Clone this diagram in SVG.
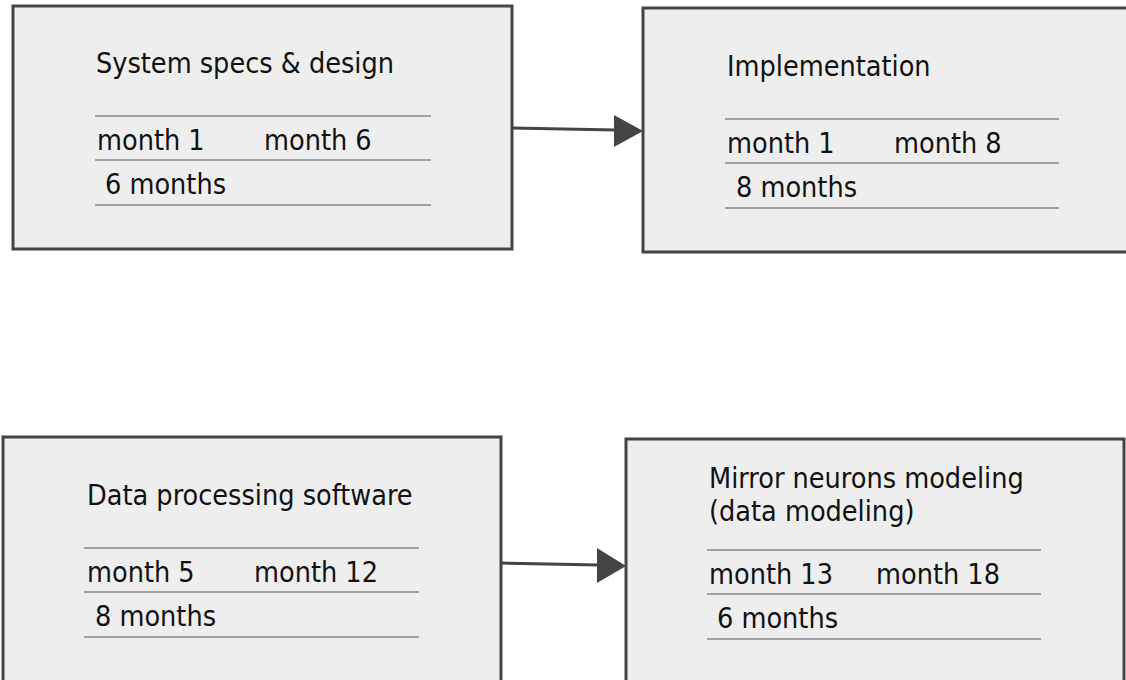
<svg xmlns="http://www.w3.org/2000/svg" width="1126" height="680" viewBox="0 0 1126 680">
<defs>
<style>
.box{fill:#eeeeee;stroke:#444444;stroke-width:3}
.t{font-family:"DejaVu Sans Condensed","DejaVu Sans",sans-serif;font-size:28.5px;fill:#111111}
.ln{stroke:#555555;stroke-width:1}
.ln2{stroke:#888888;stroke-width:1.5}
.conn{stroke:#444444;stroke-width:3;fill:none}
.head{fill:#444444}
</style>
</defs>
<rect x="0" y="0" width="1126" height="680" fill="#ffffff"/>
<g id="node-specs">
<rect class="box" x="13" y="6" width="499" height="243"/>
<text class="t" x="96" y="73">System specs &amp; design</text>
<line class="ln" x1="95" y1="116" x2="431" y2="116"/>
<text class="t" x="97" y="150">month 1</text>
<text class="t" x="264" y="150">month 6</text>
<line class="ln2" x1="95" y1="160" x2="431" y2="160"/>
<text class="t" x="105" y="194">6 months</text>
<line class="ln" x1="95" y1="205" x2="431" y2="205"/>
</g>
<g id="node-impl">
<rect class="box" x="643" y="8" width="490" height="244"/>
<text class="t" x="727" y="76">Implementation</text>
<line class="ln" x1="725" y1="119" x2="1059" y2="119"/>
<text class="t" x="727" y="153">month 1</text>
<text class="t" x="894" y="153">month 8</text>
<line class="ln2" x1="725" y1="163" x2="1059" y2="163"/>
<text class="t" x="736" y="197">8 months</text>
<line class="ln" x1="725" y1="208" x2="1059" y2="208"/>
</g>
<g id="node-data">
<rect class="box" x="3" y="437" width="498" height="260"/>
<text class="t" x="87" y="505">Data processing software</text>
<line class="ln" x1="84" y1="548" x2="419" y2="548"/>
<text class="t" x="87" y="582">month 5</text>
<text class="t" x="254" y="582">month 12</text>
<line class="ln2" x1="84" y1="592" x2="419" y2="592"/>
<text class="t" x="95" y="626">8 months</text>
<line class="ln" x1="84" y1="637" x2="419" y2="637"/>
</g>
<g id="node-mirror">
<rect class="box" x="626" y="439" width="498" height="260"/>
<text class="t" x="709" y="488">Mirror neurons modeling</text>
<text class="t" x="709" y="521">(data modeling)</text>
<line class="ln" x1="707" y1="550" x2="1041" y2="550"/>
<text class="t" x="709" y="584">month 13</text>
<text class="t" x="876" y="584">month 18</text>
<line class="ln2" x1="707" y1="594" x2="1041" y2="594"/>
<text class="t" x="717" y="628">6 months</text>
<line class="ln" x1="707" y1="639" x2="1041" y2="639"/>
</g>
<g id="connectors">
<line class="conn" x1="512" y1="128" x2="616" y2="130"/>
<polygon class="head" points="614,115 643,131 614,147"/>
<line class="conn" x1="501" y1="563" x2="599" y2="565"/>
<polygon class="head" points="597,548 626,566 597,583"/>
</g>
</svg>
